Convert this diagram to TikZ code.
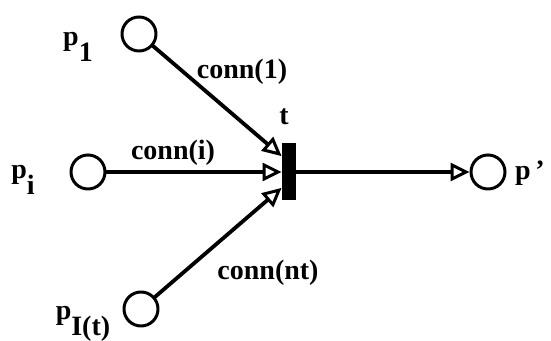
\documentclass[tikz,border=0pt]{standalone}
\usepackage{fontspec}
\setmainfont{Liberation Serif}
\usetikzlibrary{arrows.meta,calc}

\newcommand{\sub}[1]{\raisebox{-1.3ex}{#1}}

\begin{document}
\begin{tikzpicture}[x=0.5pt,y=0.5pt,line cap=round,line join=round,
    place/.style={circle,draw,line width=1.5pt,minimum size=17pt,inner sep=0pt},
    trans/.style={rectangle,fill=black,minimum width=7pt,minimum height=28.5pt,inner sep=0pt},
    arc/.style={line width=1.9pt,-{Triangle[open,length=9.5pt,width=9pt,line width=1.5pt]}},
    lbl/.style={font=\bfseries\fontsize{14}{17}\selectfont,inner sep=0pt}]
        \useasboundingbox (0,0) rectangle (551,341);

        % Lugares y transicion
        \node[place] (p1) at (139,307) {};
        \node[place] (pi) at (88,169) {};
        \node[place] (pI) at (141,32) {};
        \node[trans] (t) at (289,169) {};
        \node[place] (pp) at (488,169) {};

        % Puntos de llegada sobre t
        \coordinate (t1) at ($(t.west)!0.55!(t.north west)$);
        \coordinate (t2) at ($(t.west)!0.55!(t.south west)$);

        % Arcos
        \draw[arc] (p1) -- (t1);
        \draw[arc] (pi) -- (t.west);
        \draw[arc] (pI) -- (t2);
        \draw[arc] (t.east) -- (pp);

        % Etiquetas
        \node[lbl] (lp1) at (78,294) {p\sub{1}};
        \node[lbl] (lpi) at (23,161) {p\sub{i}};
        \node[lbl] (lpI) at (83,17) {p\sub{I(t)}};
        \node[lbl] (lpp) at (530,168) {p\,'};
        \node[lbl] (lt) at (284,224) {t};
        \node[lbl] (c1) at (242,269) {conn(1)};
        \node[lbl] (ci) at (173,188) {conn(i)};
        \node[lbl] (cnt) at (268,68) {conn(nt)};
    \end{tikzpicture}
\end{document}
